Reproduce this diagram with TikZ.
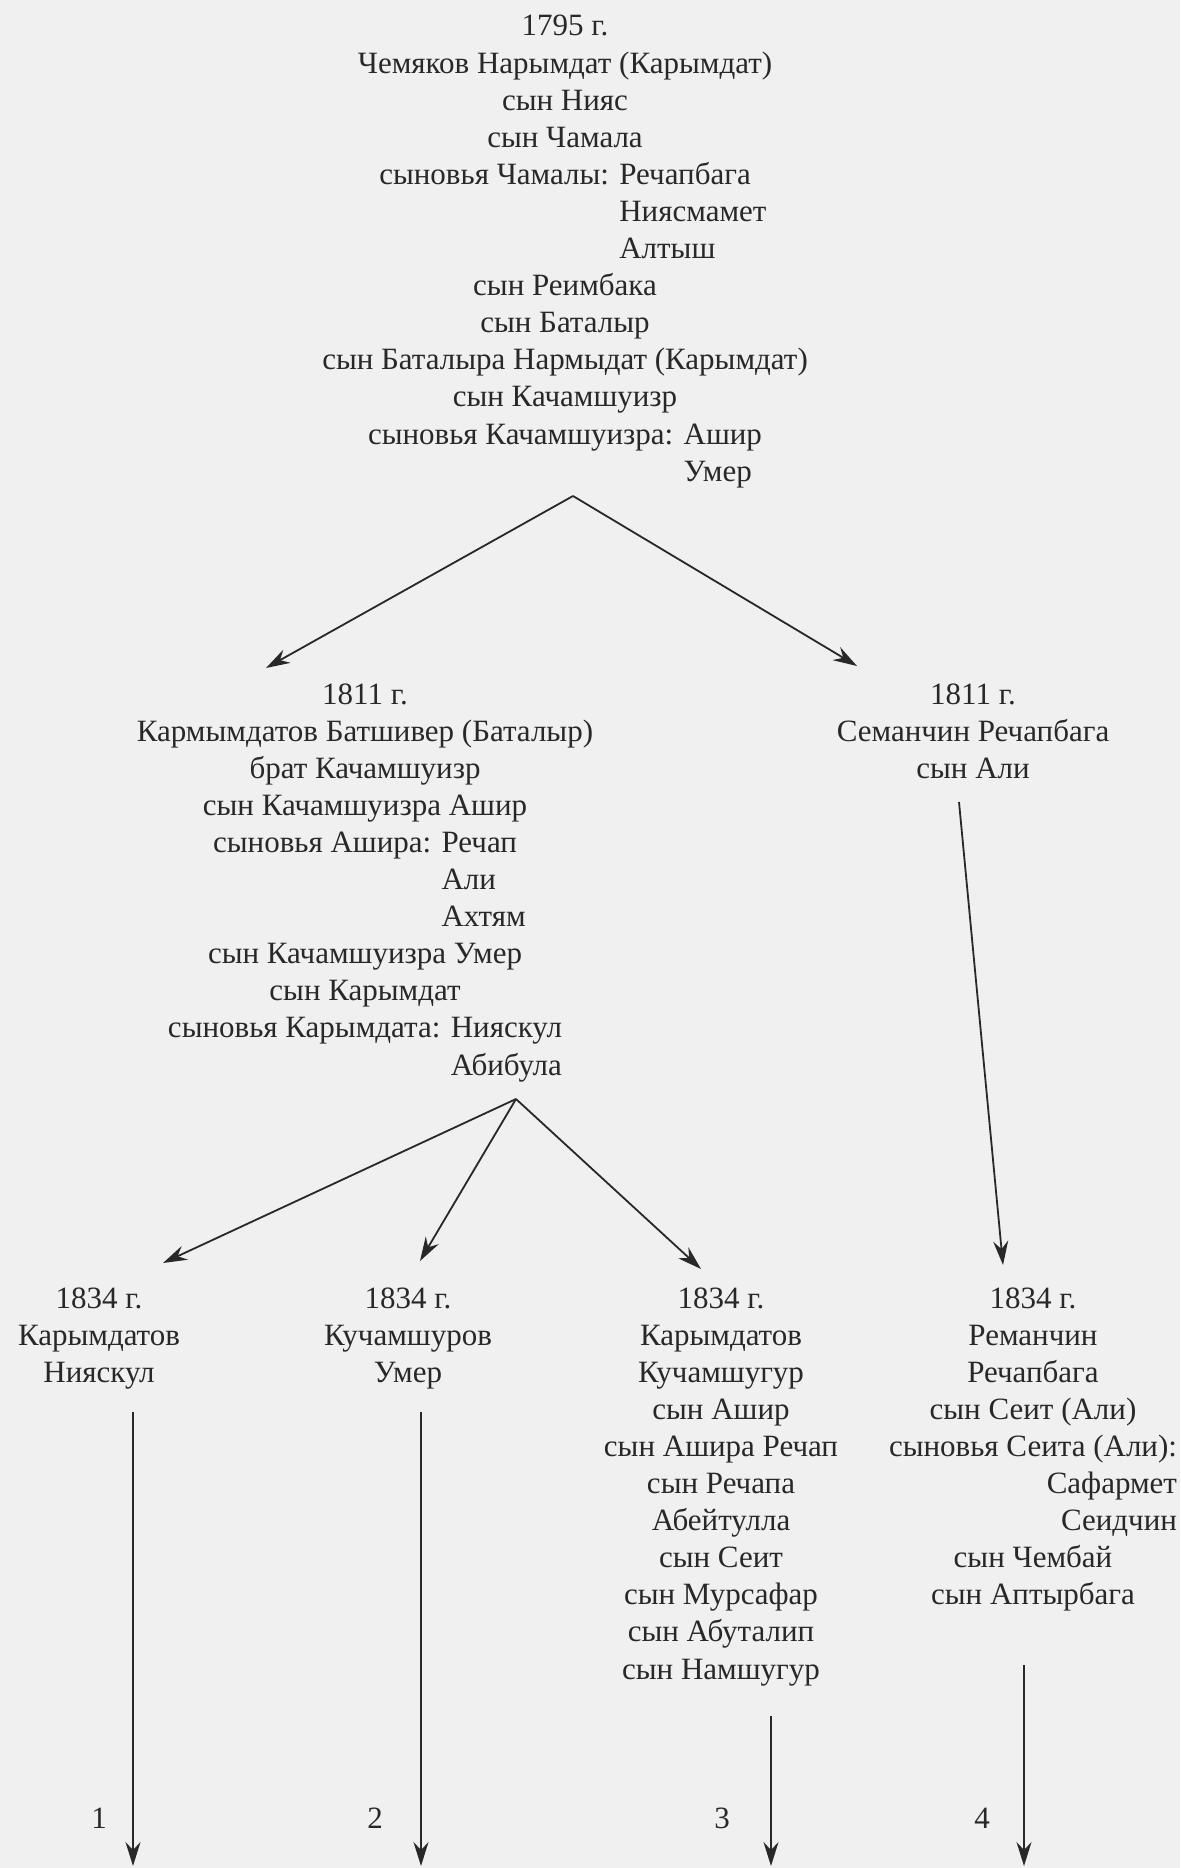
\documentclass[tikz,border=0pt]{standalone}
\usepackage{fontspec}
\setmainfont{Liberation Serif}
\usetikzlibrary{arrows.meta}
\definecolor{paper}{RGB}{240,240,240}
\definecolor{ink}{RGB}{40,40,40}
\newcommand\subname[3]{\phantom{#1}\rlap{#3}\phantom{#2}}
\newcommand\subright[2]{\phantom{#1}\llap{#2}}
\tikzset{
  record/.style={align=center, inner sep=0pt, anchor=north, text=ink, font=\fontsize{15.5pt}{18.55pt}\selectfont},
  lineno/.style={inner sep=0pt, text=ink, font=\fontsize{15.5pt}{18.55pt}\selectfont},
  descent/.style={draw=ink, line width=0.9pt, -{Stealth[length=12pt,width=7.5pt,inset=4pt]}}
}
\begin{document}
\begin{tikzpicture}[x=0.5pt,y=-0.5pt]
\fill[paper] (0,0) rectangle (1180,1868);
\useasboundingbox (0,0) rectangle (1180,1868);

\node[record] (gen1795) at (565,15) {1795 г.\\
Чемяков Нарымдат (Карымдат)\\
сын Нияс\\
сын Чамала\\
сыновья Чамалы: Речапбага\\
\subname{сыновья Чамалы: }{Речапбага}{Ниясмамет}\\
\subname{сыновья Чамалы: }{Речапбага}{Алтыш}\\
сын Реимбака\\
сын Баталыр\\
сын Баталыра Нармыдат (Карымдат)\\
сын Качамшуизр\\
сыновья Качамшуизра: Ашир\\
\subname{сыновья Качамшуизра: }{Ашир}{Умер}};

\node[record] (gen1811a) at (365,683) {1811 г.\\
Кармымдатов Батшивер (Баталыр)\\
брат Качамшуизр\\
сын Качамшуизра Ашир\\
сыновья Ашира: Речап\\
\subname{сыновья Ашира: }{Речап}{Али}\\
\subname{сыновья Ашира: }{Речап}{Ахтям}\\
сын Качамшуизра Умер\\
сын Карымдат\\
сыновья Карымдата: Нияскул\\
\subname{сыновья Карымдата: }{Нияскул}{Абибула}};

\node[record] (gen1811b) at (973,683) {1811 г.\\
Семанчин Речапбага\\
сын Али};

\node[record] (gen1834a) at (99,1287) {1834 г.\\
Карымдатов\\
Нияскул};

\node[record] (gen1834b) at (408,1287) {1834 г.\\
Кучамшуров\\
Умер};

\node[record] (gen1834c) at (721,1287) {1834 г.\\
Карымдатов\\
Кучамшугур\\
сын Ашир\\
сын Ашира Речап\\
сын Речапа\\
Абейтулла\\
сын Сеит\\
сын Мурсафар\\
сын Абуталип\\
сын Намшугур};

\node[record] (gen1834d) at (1033,1287) {1834 г.\\
Реманчин\\
Речапбага\\
сын Сеит (Али)\\
сыновья Сеита (Али):\\
\subright{сыновья Сеита (Али):}{Сафармет}\\
\subright{сыновья Сеита (Али):}{Сеидчин}\\
сын Чембай\\
сын Аптырбага};

\node[lineno] (num1) at (99,1818) {1};
\node[lineno] (num2) at (375,1818) {2};
\node[lineno] (num3) at (722,1818) {3};
\node[lineno] (num4) at (982,1818) {4};

\coordinate (fork1795) at (573,496);
\coordinate (fork1811) at (516,1099);
\coordinate (tail1811b) at (959,802);
\coordinate (tail1834a) at (133,1412);
\coordinate (tail1834b) at (421,1412);
\coordinate (tail1834c) at (771,1716);
\coordinate (tail1834d) at (1024,1665);
\coordinate (end1) at (133,1866);
\coordinate (end2) at (421,1866);
\coordinate (end3) at (771,1866);
\coordinate (end4) at (1024,1866);

\draw[descent] (fork1795) -- (266,668);
\draw[descent] (fork1795) -- (857,666);
\draw[descent] (tail1811b) -- (1003,1265);
\draw[descent] (fork1811) -- (163,1263);
\draw[descent] (fork1811) -- (420,1261);
\draw[descent] (fork1811) -- (701,1269);
\draw[descent] (tail1834a) -- (end1);
\draw[descent] (tail1834b) -- (end2);
\draw[descent] (tail1834c) -- (end3);
\draw[descent] (tail1834d) -- (end4);
\end{tikzpicture}
\end{document}
